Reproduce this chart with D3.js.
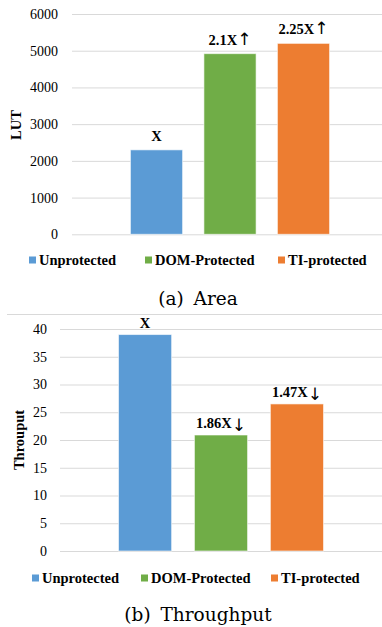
<!DOCTYPE html>
<html>
<head>
    <meta charset="utf-8">
    <title>Area and Throughput</title>
    <script src="https://d3js.org/d3.v7.min.js"></script>
    <style>
        body { margin: 0; background: #fff; }
    </style>
</head>
<body>
<div id="chart"></div>
<script>

    // dados
    let series = ["Unprotected", "DOM-Protected", "TI-protected"];
    let colors = ["#5B9BD5", "#70AD47", "#ED7D31"];

    let lutValues = [2300, 4920, 5200];
    let lutLabels = ["X", "2.1X", "2.25X"];
    let lutArrows = ["", "\u2191", "\u2191"];
    let lutTicks = [0, 1000, 2000, 3000, 4000, 5000, 6000];

    let thrValues = [39, 20.9, 26.5];
    let thrLabels = ["X", "1.86X", "1.47X"];
    let thrArrows = ["", "\u2193", "\u2193"];
    let thrTicks = [0, 5, 10, 15, 20, 25, 30, 35, 40];

    const SERIF = "Liberation Serif";

    let svg = d3.select("#chart")
        .append("svg")
            .attr("width", 382)
            .attr("height", 627)
            .attr("font-family", SERIF);

    // borda cinza entre os dois graficos
    svg.append("line")
        .attr("x1", 7).attr("x2", 382)
        .attr("y1", 314.5).attr("y2", 314.5)
        .attr("stroke", "#d9d9d9");

    function barChart(opt) {
        let g = svg.append("g");

        let yScale = d3.scaleLinear()
            .domain([0, d3.max(opt.ticks)])
            .range([opt.bottom, opt.top]);

        let xScale = d3.scaleBand()
            .domain(series)
            .range([opt.left, opt.right])
            .paddingInner(opt.padIn)
            .paddingOuter(opt.padOut);

        // grade
        let yAxis = d3.axisLeft(yScale)
            .tickValues(opt.ticks)
            .tickFormat(d3.format("d"))
            .tickSize(-(opt.gridRight - opt.left))
            .tickPadding(opt.tickPad);

        let axis = g.append("g")
            .attr("transform", "translate(" + opt.left + ",0)")
            .call(yAxis)
            .attr("font-family", SERIF)
            .attr("font-size", 14);
        axis.select(".domain").remove();
        axis.selectAll(".tick line")
            .attr("stroke", "#d9d9d9");
        axis.selectAll(".tick text")
            .attr("fill", "#000");

        // barras
        g.selectAll("rect.bar")
            .data(opt.values)
            .enter()
            .append("rect")
            .attr("class", "bar")
            .attr("x", function(d, i) { return xScale(series[i]); })
            .attr("y", function(d) { return yScale(d); })
            .attr("width", xScale.bandwidth())
            .attr("height", function(d) { return yScale(0) - yScale(d); })
            .attr("fill", function(d, i) { return colors[i]; })
            .attr("stroke", "#fff")
            .attr("stroke-opacity", 0.6)
            .attr("stroke-width", 1);

        // rotulos das barras; a seta vem de uma fonte que tem o glifo
        let lbl = g.selectAll("text.lbl")
            .data(opt.values)
            .enter()
            .append("text")
            .attr("class", "lbl")
            .attr("x", function(d, i) { return xScale(series[i]) + xScale.bandwidth() / 2; })
            .attr("y", function(d) { return yScale(d) - opt.lblGap; })
            .attr("text-anchor", "middle")
            .attr("font-weight", "bold")
            .attr("font-size", 14.5);
        lbl.append("tspan")
            .text(function(d, i) { return opt.labels[i]; });
        lbl.append("tspan")
            .attr("font-family", "DejaVu Sans")
            .attr("font-weight", "normal")
            .attr("font-size", 17)
            .attr("dy", opt.arrowDy)
            .attr("fill", "#000")
            .text(function(d, i) { return opt.arrows[i]; });

        // titulo do eixo y
        g.append("text")
            .attr("transform", "translate(" + opt.yTitleX + "," + opt.yTitleY + ") rotate(-90)")
            .attr("text-anchor", "middle")
            .attr("dominant-baseline", "central")
            .attr("font-weight", "bold")
            .attr("font-size", 14.5)
            .text(opt.yTitle);

        // legenda
        series.forEach(function(s, i) {
            g.append("rect")
                .attr("x", opt.legX[i])
                .attr("y", opt.legY - 3.5)
                .attr("width", 7)
                .attr("height", 7)
                .attr("fill", colors[i]);
            g.append("text")
                .attr("x", opt.legX[i] + 10)
                .attr("y", opt.legY)
                .attr("dominant-baseline", "central")
                .attr("font-weight", "bold")
                .attr("font-size", 14.5)
                .text(s);
        });

        // legenda da figura
        g.append("text")
            .attr("x", opt.capX)
            .attr("y", opt.capY)
            .attr("text-anchor", "middle")
            .attr("font-family", "DejaVu Serif")
            .attr("word-spacing", 4)
            .attr("font-size", 18.5)
            .text(opt.caption);
    }

    barChart({
        values: lutValues, labels: lutLabels, arrows: lutArrows, ticks: lutTicks,
        top: 14, bottom: 234.3, left: 72, right: 388, gridRight: 388,
        padIn: 0.29, padOut: 0.795, tickPad: 14, lblGap: 9, arrowDy: 0,
        yTitle: "LUT", yTitleX: 16, yTitleY: 125,
        legX: [29, 145, 278], legY: 260,
        caption: "(a) Area", capX: 198, capY: 305
    });

    barChart({
        values: thrValues, labels: thrLabels, arrows: thrArrows, ticks: thrTicks,
        top: 329, bottom: 551, left: 60, right: 382, gridRight: 382,
        padIn: 0.30, padOut: 0.77, tickPad: 13, lblGap: 7, arrowDy: 3,
        yTitle: "Throuput", yTitleX: 19, yTitleY: 440,
        legX: [32, 141, 271], legY: 578,
        caption: "(b) Throughput", capX: 198, capY: 621
    });

</script>
</body>
</html>
